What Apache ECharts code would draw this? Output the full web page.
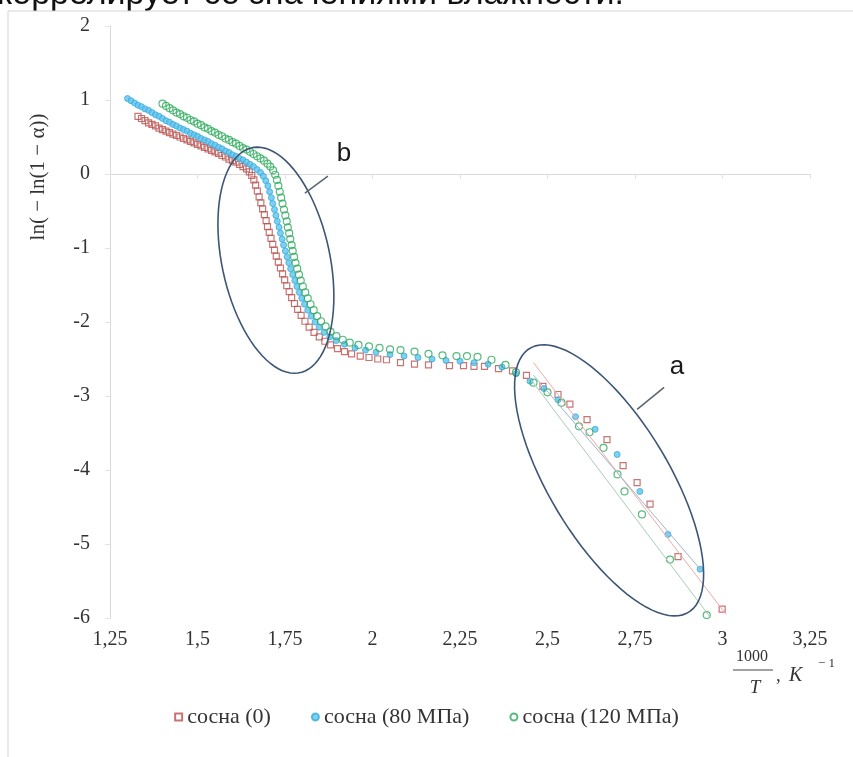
<!DOCTYPE html>
<html>
<head>
<meta charset="utf-8">
<script src="https://cdn.jsdelivr.net/npm/echarts@6.0.0/dist/echarts.min.js"></script>
<style>
  html, body { margin: 0; padding: 0; background: #fff; }
  #charts { width: 853px; height: 757px; }
</style>
</head>
<body>
<div id="charts"></div>
<script>
// данные: [1000/T, ln(-ln(1-a))]
var seriesNames = ['сосна (0)', 'сосна (80 МПа)', 'сосна (120 МПа)'];

var pine0 = [
  [1.330,0.78],[1.340,0.75],[1.350,0.72],[1.360,0.69],[1.370,0.67],[1.380,0.65],[1.390,0.62],[1.400,0.60],
  [1.410,0.58],[1.420,0.56],[1.430,0.54],[1.440,0.52],[1.450,0.50],[1.460,0.48],[1.470,0.46],[1.480,0.44],
  [1.490,0.42],[1.500,0.40],[1.510,0.38],[1.520,0.36],[1.530,0.34],[1.540,0.32],[1.550,0.30],[1.560,0.28],
  [1.570,0.25],[1.580,0.23],[1.590,0.20],[1.600,0.18],[1.610,0.16],[1.620,0.13],[1.630,0.10],[1.640,0.07],
  [1.648,0.03],[1.655,-0.02],[1.661,-0.08],[1.666,-0.15],[1.671,-0.23],[1.676,-0.31],[1.681,-0.39],[1.686,-0.47],
  [1.691,-0.55],[1.696,-0.63],[1.700,-0.71],[1.705,-0.79],[1.710,-0.87],[1.715,-0.95],[1.720,-1.03],[1.725,-1.11],
  [1.731,-1.19],[1.737,-1.27],[1.743,-1.35],[1.749,-1.43],[1.755,-1.51],[1.762,-1.59],[1.769,-1.67],[1.777,-1.75],
  [1.786,-1.83],[1.796,-1.91],[1.807,-1.99],[1.819,-2.07],[1.833,-2.14],[1.848,-2.20],[1.864,-2.26],[1.880,-2.31],
  [1.900,-2.36],[1.920,-2.40],[1.940,-2.43],[1.965,-2.46],[1.990,-2.48],[2.015,-2.50],[2.040,-2.51],[2.080,-2.55],
  [2.120,-2.57],[2.160,-2.58],[2.220,-2.59],[2.260,-2.59],[2.290,-2.60],[2.320,-2.60],[2.360,-2.63],[2.400,-2.66],
  [2.440,-2.72],[2.487,-2.87],[2.530,-2.98],[2.564,-3.11],[2.613,-3.32],[2.670,-3.59],[2.716,-3.94],[2.756,-4.17],
  [2.793,-4.46],[2.873,-5.17],[2.999,-5.88]
];

var pine80 = [
  [1.300,1.02],[1.310,0.99],[1.320,0.96],[1.330,0.93],[1.340,0.91],[1.350,0.88],[1.360,0.86],[1.370,0.83],
  [1.380,0.80],[1.390,0.78],[1.400,0.75],[1.410,0.72],[1.420,0.70],[1.430,0.67],[1.440,0.65],[1.450,0.62],
  [1.460,0.60],[1.470,0.58],[1.480,0.55],[1.490,0.53],[1.500,0.51],[1.510,0.48],[1.520,0.46],[1.530,0.44],
  [1.540,0.41],[1.550,0.39],[1.560,0.36],[1.570,0.34],[1.580,0.31],[1.590,0.29],[1.600,0.26],[1.610,0.24],
  [1.620,0.21],[1.630,0.19],[1.640,0.16],[1.650,0.13],[1.660,0.10],[1.670,0.06],[1.680,0.02],[1.688,-0.03],
  [1.695,-0.09],[1.701,-0.16],[1.706,-0.24],[1.711,-0.32],[1.715,-0.40],[1.720,-0.48],[1.724,-0.56],[1.728,-0.64],
  [1.733,-0.72],[1.737,-0.80],[1.742,-0.88],[1.746,-0.96],[1.751,-1.04],[1.756,-1.12],[1.761,-1.20],[1.766,-1.28],
  [1.772,-1.36],[1.778,-1.44],[1.784,-1.52],[1.791,-1.60],[1.798,-1.68],[1.806,-1.76],[1.815,-1.84],[1.825,-1.92],
  [1.836,-2.00],[1.848,-2.07],[1.862,-2.14],[1.878,-2.20],[1.896,-2.25],[1.920,-2.30],[1.950,-2.35],[1.980,-2.38],
  [2.010,-2.41],[2.050,-2.44],[2.090,-2.46],[2.130,-2.48],[2.170,-2.50],[2.210,-2.52],[2.250,-2.53],[2.290,-2.55],
  [2.330,-2.57],[2.370,-2.61],[2.410,-2.70],[2.450,-2.80],[2.490,-2.90],[2.530,-3.05],[2.580,-3.28],[2.636,-3.45],
  [2.699,-3.79],[2.764,-4.29],[2.844,-4.87],[2.936,-5.34]
];

var pine120 = [
  [1.400,0.95],[1.410,0.92],[1.420,0.89],[1.430,0.86],[1.440,0.83],[1.450,0.81],[1.460,0.78],[1.470,0.76],
  [1.480,0.73],[1.490,0.71],[1.500,0.68],[1.510,0.66],[1.520,0.63],[1.530,0.61],[1.540,0.58],[1.550,0.56],
  [1.560,0.53],[1.570,0.51],[1.580,0.48],[1.590,0.46],[1.600,0.43],[1.610,0.41],[1.620,0.38],[1.630,0.35],
  [1.640,0.33],[1.650,0.30],[1.660,0.27],[1.670,0.24],[1.680,0.21],[1.690,0.18],[1.700,0.14],[1.708,0.10],
  [1.716,0.05],[1.722,-0.01],[1.727,-0.08],[1.731,-0.16],[1.735,-0.24],[1.739,-0.32],[1.743,-0.40],[1.747,-0.48],
  [1.751,-0.56],[1.755,-0.64],[1.758,-0.72],[1.762,-0.80],[1.765,-0.88],[1.769,-0.96],[1.772,-1.04],[1.776,-1.12],
  [1.780,-1.20],[1.785,-1.28],[1.790,-1.36],[1.795,-1.44],[1.801,-1.52],[1.808,-1.60],[1.815,-1.68],[1.823,-1.76],
  [1.832,-1.84],[1.842,-1.92],[1.853,-1.99],[1.866,-2.06],[1.880,-2.13],[1.897,-2.19],[1.915,-2.24],[1.935,-2.28],
  [1.960,-2.31],[1.990,-2.33],[2.020,-2.35],[2.050,-2.37],[2.080,-2.38],[2.120,-2.40],[2.160,-2.43],[2.200,-2.45],
  [2.240,-2.46],[2.270,-2.46],[2.300,-2.47],[2.340,-2.51],[2.380,-2.58],[2.410,-2.68],[2.460,-2.82],[2.500,-2.95],
  [2.540,-3.09],[2.590,-3.41],[2.620,-3.49],[2.660,-3.70],[2.700,-4.06],[2.720,-4.29],[2.770,-4.60],[2.850,-5.21],
  [2.955,-5.96]
];

// линейные тренды в области a
var trend0 = [[2.46,-2.55],[3.01,-5.95]];
var trend80 = [[2.46,-2.72],[2.94,-5.36]];
var trend120 = [[2.45,-2.76],[2.965,-5.99]];

var xTicks = { min: 1.25, max: 3.25, step: 0.25 };
var yTicks = { min: -6, max: 2, step: 1 };

// эллипсы-выделения (центр в координатах данных, полуоси в пикселях)
var ellipses = [
  { name: 'b', center: [1.724, -1.165], a: 115, b: 54, tilt: 12, lead: [29, -67, 52, -84], labelAt: [68, -106] },
  { name: 'a', center: [2.676, -4.140], a: 154, b: 60, tilt: 31, lead: [28, -71, 55, -93], labelAt: [68, -114] }
];

var serif = '"Liberation Serif", "DejaVu Serif", serif';

function renderEllipse(params, api) {
  var e = ellipses[params.dataIndex];
  var c = api.coord([api.value(0), api.value(1)]);
  var t = e.tilt * Math.PI / 180;
  var pts = [];
  for (var k = 0; k < 90; k++) {
    var u = k / 90 * Math.PI * 2;
    var px = e.b * Math.cos(u), py = e.a * Math.sin(u);
    pts.push([c[0] + px * Math.cos(t) + py * Math.sin(t), c[1] - px * Math.sin(t) + py * Math.cos(t)]);
  }
  return {
    type: 'group',
    children: [
      { type: 'polygon', shape: { points: pts }, style: { fill: 'none', stroke: '#3D5675', lineWidth: 1.6 } },
      { type: 'line', shape: { x1: c[0] + e.lead[0], y1: c[1] + e.lead[1], x2: c[0] + e.lead[2], y2: c[1] + e.lead[3] },
        style: { stroke: '#5A6470', lineWidth: 1.5 } },
      { type: 'text', x: c[0] + e.labelAt[0], y: c[1] + e.labelAt[1],
        style: { text: e.name, fill: '#1a1a1a', font: '26px "Liberation Sans", Arial, sans-serif', align: 'center', verticalAlign: 'middle' } }
    ]
  };
}

var myChart = echarts.init(document.getElementById('charts'));

var option = {
  animation: false,
  backgroundColor: '#fff',
  grid: { left: 110, right: 43, top: 26, bottom: 139 },
  xAxis: {
    type: 'value', min: xTicks.min, max: xTicks.max, interval: xTicks.step,
    axisLine: { show: true, lineStyle: { color: '#D9D9D9', width: 1 } },
    axisTick: { show: true, length: 5, lineStyle: { color: '#E3E3E3' } },
    splitLine: { show: false },
    axisLabel: {
      margin: 12, color: '#333', fontFamily: serif, fontSize: 20,
      formatter: function (v) { return String(v).replace('.', ','); }
    }
  },
  yAxis: {
    type: 'value', min: yTicks.min, max: yTicks.max, interval: yTicks.step,
    axisLine: { show: true, lineStyle: { color: '#D9D9D9', width: 1 } },
    axisTick: { show: true, length: 5, lineStyle: { color: '#E3E3E3' } },
    splitLine: { show: false },
    axisLabel: { margin: 20, color: '#333', fontFamily: serif, fontSize: 20 }
  },
  legend: {
    data: seriesNames,
    top: 701, left: 'center',
    itemWidth: 7, itemHeight: 7, itemGap: 40,
    textStyle: { fontFamily: serif, fontSize: 22, color: '#333' }
  },
  series: [
    { name: 'trend0', type: 'line', data: trend0, showSymbol: false, silent: true,
      lineStyle: { color: '#EFA9A9', width: 1 } },
    { name: 'trend80', type: 'line', data: trend80, showSymbol: false, silent: true,
      lineStyle: { color: '#9DB4C8', width: 1 } },
    { name: 'trend120', type: 'line', data: trend120, showSymbol: false, silent: true,
      lineStyle: { color: '#A8CDB4', width: 1 } },
    { name: seriesNames[0], type: 'scatter', data: pine0, symbol: 'rect', symbolSize: 6,
      itemStyle: { color: 'rgba(255,255,255,0)', borderColor: '#B9534F', borderWidth: 1.2 } },
    { name: seriesNames[1], type: 'scatter', data: pine80, symbol: 'circle', symbolSize: 6,
      itemStyle: { color: '#5EC4EE', borderColor: '#3AAADF', borderWidth: 1 } },
    { name: seriesNames[2], type: 'scatter', data: pine120, symbol: 'circle', symbolSize: 7,
      itemStyle: { color: 'rgba(255,255,255,0)', borderColor: '#2EAA5C', borderWidth: 1.2 } },
    { name: 'ellipses', type: 'custom', coordinateSystem: 'cartesian2d', clip: false, silent: true,
      data: ellipses.map(function (e) { return e.center; }), renderItem: renderEllipse, z: 5 }
  ],
  graphic: [
    // обрезанная строка текста над рисунком
    { type: 'text', x: -3, y: -22, style: { text: 'коррелирует со значениями влажности.',
      font: '34px "Liberation Sans", Arial, sans-serif', fill: '#111' } },
    // рамка
    { type: 'line', shape: { x1: 8, y1: 11, x2: 853, y2: 11 }, style: { stroke: '#D4D4D4', lineWidth: 1 } },
    { type: 'line', shape: { x1: 8, y1: 11, x2: 8, y2: 757 }, style: { stroke: '#D4D4D4', lineWidth: 1 } },
    // подпись оси Y
    { type: 'text', x: 38, y: 177, rotation: Math.PI / 2,
      style: { text: 'ln( − ln(1 − α))', font: '21px ' + serif, fill: '#333', align: 'center', verticalAlign: 'middle' } },
    // подпись оси X: 1000/T, K^-1
    { type: 'text', x: 752, y: 657, style: { text: '1000', font: '16px ' + serif, fill: '#333', align: 'center', verticalAlign: 'middle' } },
    { type: 'line', shape: { x1: 733, y1: 670, x2: 773, y2: 670 }, style: { stroke: '#444', lineWidth: 1 } },
    { type: 'text', x: 755, y: 688, style: { text: 'T', font: 'italic 19px ' + serif, fill: '#333', align: 'center', verticalAlign: 'middle' } },
    { type: 'text', x: 776, y: 676, style: { text: ', ', font: '19px ' + serif, fill: '#333', verticalAlign: 'middle' } },
    { type: 'text', x: 789, y: 676, style: { text: 'K', font: 'italic 20px ' + serif, fill: '#333', verticalAlign: 'middle' } },
    { type: 'text', x: 818, y: 664, style: { text: '− 1', font: '13px ' + serif, fill: '#333', verticalAlign: 'middle' } }
  ]
};

myChart.setOption(option);
</script>
</body>
</html>
